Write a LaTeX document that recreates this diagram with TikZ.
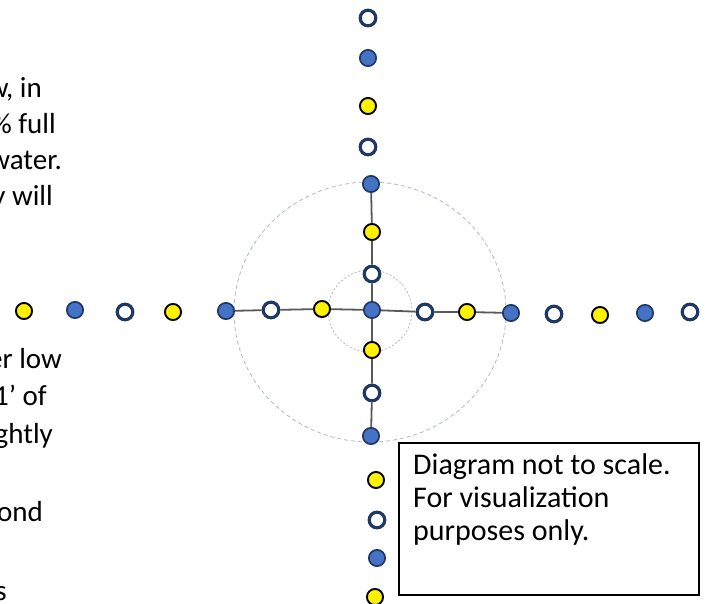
\documentclass[tikz,border=0pt]{standalone}
\usepackage{fontspec}
\setmainfont{Carlito}
\definecolor{dotblue}{HTML}{4472C4}
\definecolor{dotedge}{HTML}{203864}
\definecolor{axisgray}{HTML}{595959}
\definecolor{ringgray}{HTML}{ADB9CA}
\begin{document}
\begin{tikzpicture}[x=1pt,y=-1pt,
  bluedot/.style={circle,draw=dotedge,fill=dotblue,line width=1.7pt,minimum size=16.3pt,inner sep=0pt},
  whitedot/.style={circle,draw=dotedge,fill=white,line width=3.2pt,minimum size=15.6pt,inner sep=0pt},
  yellowdot/.style={circle,draw=black,fill=yellow,line width=1.9pt,minimum size=16.1pt,inner sep=0pt},
  axis/.style={draw=axisgray,line width=1.8pt},
  ring/.style={draw=ringgray,line width=0.8pt,dash pattern=on 4pt off 3pt},
  innerring/.style={draw=ringgray,line width=0.8pt,dash pattern=on 2pt off 2pt},
  bodytext/.style={font=\fontsize{29}{36}\selectfont,inner sep=0pt,anchor=base east},
  notetext/.style={font=\fontsize{30}{33}\selectfont,inner sep=0pt,anchor=base west},
  notebox/.style={draw=black,line width=1.5pt}]
\useasboundingbox (0,0) rectangle (713,604);
\clip (0,0) rectangle (713,604);

% dashed rings around the centre
\draw[ring] (370,312) ellipse [x radius=136, y radius=130];
\draw[innerring] (370,311) ellipse [x radius=42, y radius=41];

% vertical row of dots
\node[whitedot]  (v1)  at (368,18)  {};
\node[bluedot]   (v2)  at (368,58)  {};
\node[yellowdot] (v3)  at (368,106) {};
\node[whitedot]  (v4)  at (368,147) {};
\node[bluedot]   (v5)  at (371,184) {};
\node[yellowdot] (v6)  at (372,232) {};
\node[whitedot]  (v7)  at (372,274) {};
\node[bluedot]   (c)   at (372,310) {};
\node[yellowdot] (v9)  at (372,350) {};
\node[whitedot]  (v10) at (372,393) {};
\node[bluedot]   (v11) at (371,436) {};
\node[yellowdot] (v12) at (376,480) {};
\node[whitedot]  (v13) at (377,520) {};
\node[bluedot]   (v14) at (377,558) {};
\node[yellowdot] (v15) at (375,597) {};

% horizontal row of dots
\node[yellowdot] (h1)  at (24,311)  {};
\node[bluedot]   (h2)  at (75,310)  {};
\node[whitedot]  (h3)  at (125,312) {};
\node[yellowdot] (h4)  at (173,312) {};
\node[bluedot]   (h5)  at (226,311) {};
\node[whitedot]  (h6)  at (271,310) {};
\node[yellowdot] (h7)  at (322,309) {};
\node[whitedot]  (h8)  at (425,312) {};
\node[yellowdot] (h9)  at (467,312) {};
\node[bluedot]   (h10) at (511,313) {};
\node[whitedot]  (h11) at (554,314) {};
\node[yellowdot] (h12) at (600,315) {};
\node[bluedot]   (h13) at (645,313) {};
\node[whitedot]  (h14) at (690,312) {};

% cross joining the inner dots
\draw[axis] (v5) -- (v6) (v6) -- (v7) (v7) -- (c) (c) -- (v9) (v9) -- (v10) (v10) -- (v11);
\draw[axis] (h5) -- (h6) (h6) -- (h7) (h7) -- (c) (c) -- (h8) (h8) -- (h9) (h9) -- (h10);

% text running in from the left edge
\node[bodytext] (t1) at (42,98)  {w, in};
\node[bodytext] (t2) at (56,134) {\% full};
\node[bodytext] (t3) at (62,170) {water.};
\node[bodytext] (t4) at (53,206) {y will};
\node[bodytext] (t5) at (62,369) {er low};
\node[bodytext] (t6) at (47,406) {1’ of};
\node[bodytext] (t7) at (53,443) {ghtly};
\node[bodytext] (t8) at (43,521) {ond};
\node[bodytext] (t9) at (7,600)  {s};

% note box
\draw[notebox] (399,443) rectangle (699,595);
\node[notetext] (n1) at (413,474) {Diagram not to scale.};
\node[notetext] (n2) at (413,507) {For visualization};
\node[notetext] (n3) at (413,540) {purposes only.};
\end{tikzpicture}
\end{document}
